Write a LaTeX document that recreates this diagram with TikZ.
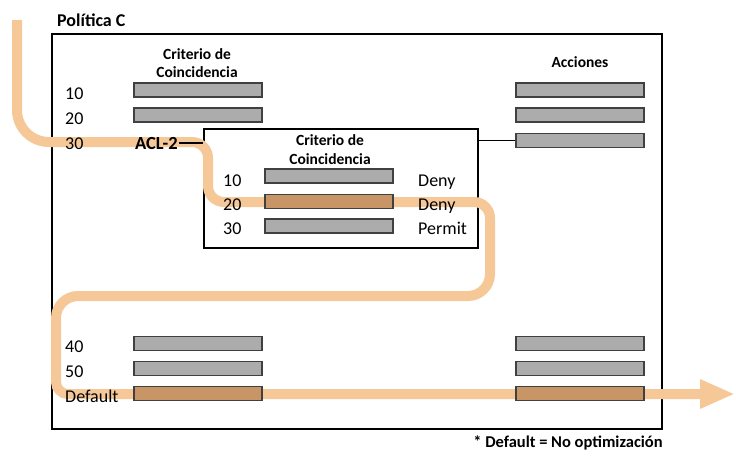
\documentclass[tikz,border=0pt]{standalone}
\usepackage{fontspec}
\setmainfont{Carlito}
\usetikzlibrary{arrows.meta}
\usetikzlibrary{positioning}
\tikzset{>=latex}
\definecolor{flow}{RGB}{246,200,152}
\definecolor{hit}{RGB}{200,150,102}
\definecolor{barfill}{RGB}{172,172,172}
\tikzstyle{bar} = [rectangle, draw=black!75, line width=1.3pt, fill=barfill, minimum width=128pt, minimum height=14pt, inner sep=0pt]
\tikzstyle{hitbar} = [bar, fill=hit]
\tikzstyle{lbl} = [anchor=base west, inner sep=0pt, font=\fontsize{18}{20}\selectfont]
\tikzstyle{hdr} = [anchor=base, inner sep=0pt, font=\bfseries\fontsize{15.5}{17}\selectfont]
\tikzstyle{frame} = [rectangle, draw=black, line width=1.5pt, inner sep=0pt]
\tikzstyle{route} = [draw=flow, line width=10pt]

\begin{document}
\begin{tikzpicture}[x=1pt, y=-1pt]
\useasboundingbox (0,0) rectangle (736,455);
% boxes
\node [frame, minimum width=610pt, minimum height=395pt] (pol) at (357,231.5) {};
\node [frame, fill=white, minimum width=274pt, minimum height=119pt] (inner) at (341,188.5) {};
% flow through the policy
\coordinate (in) at (17,20);
\coordinate (out) at (735,394);
\draw [route, -{Triangle[length=35pt, width=27pt]}] (in) [rounded corners=32pt] -- (17,142) [rounded corners=16pt] -- (208,142) -- (208,202) -- (490,202) [rounded corners=22pt] -- (490,296) -- (56,296) [rounded corners=12pt] -- (56,394) -- (out);
% match criteria
\node [bar] (c10) at (198,90) {};
\node [bar] (c20) at (198,115) {};
\node [bar] (c40) at (198,343.5) {};
\node [bar] (c50) at (198,368.5) {};
\node [hitbar] (cdef) at (198,393.5) {};
% actions
\node [bar] (a10) at (580,90) {};
\node [bar] (a20) at (580,115) {};
\node [bar] (a30) at (580,140.5) {};
\node [bar] (a40) at (580,343.5) {};
\node [bar] (a50) at (580,368.5) {};
\node [hitbar] (adef) at (580,393.5) {};
% ACL-2 entries
\node [bar] (i10) at (329,176) {};
\node [hitbar] (i20) at (329,201.5) {};
\node [bar] (i30) at (329,226) {};
% texts
\node [lbl, font=\bfseries\fontsize{18}{20}\selectfont] (title) at (57,26) {Política C};
\node [hdr] (h1a) at (197,59) {Criterio de};
\node [hdr] (h1b) at (197,77) {Coincidencia};
\node [hdr] (h2) at (580,67) {Acciones};
\node [hdr] (h3a) at (330,145) {Criterio de};
\node [hdr] (h3b) at (330,164) {Coincidencia};
\node [lbl] (n10) at (65,99) {10};
\node [lbl] (n20) at (65,124) {20};
\node [lbl] (n30) at (65,149) {30};
\node [lbl] (n40) at (65,352) {40};
\node [lbl] (n50) at (65,377) {50};
\node [lbl] (ndef) at (65,402) {Default};
\node [lbl, inner xsep=1pt, font=\bfseries\fontsize{18.5}{20}\selectfont] (acl) at (134,149) {ACL-2};
\node [lbl] (m10) at (223,186) {10};
\node [lbl] (m20) at (223,210) {20};
\node [lbl] (m30) at (223,234) {30};
\node [lbl] (d10) at (418,186) {Deny};
\node [lbl] (d20) at (418,210) {Deny};
\node [lbl] (d30) at (418,234) {Permit};
\node [anchor=base, inner sep=0pt, font=\bfseries\fontsize{16.5}{18}\selectfont] (note) at (568,447) {* Default = No optimización};
% links
\draw [line width=1.2pt] (acl.east) -- (acl.east -| inner.west);
\draw [line width=1.2pt] (inner.east |- a30) -- (a30.west);
\end{tikzpicture}
\end{document}
